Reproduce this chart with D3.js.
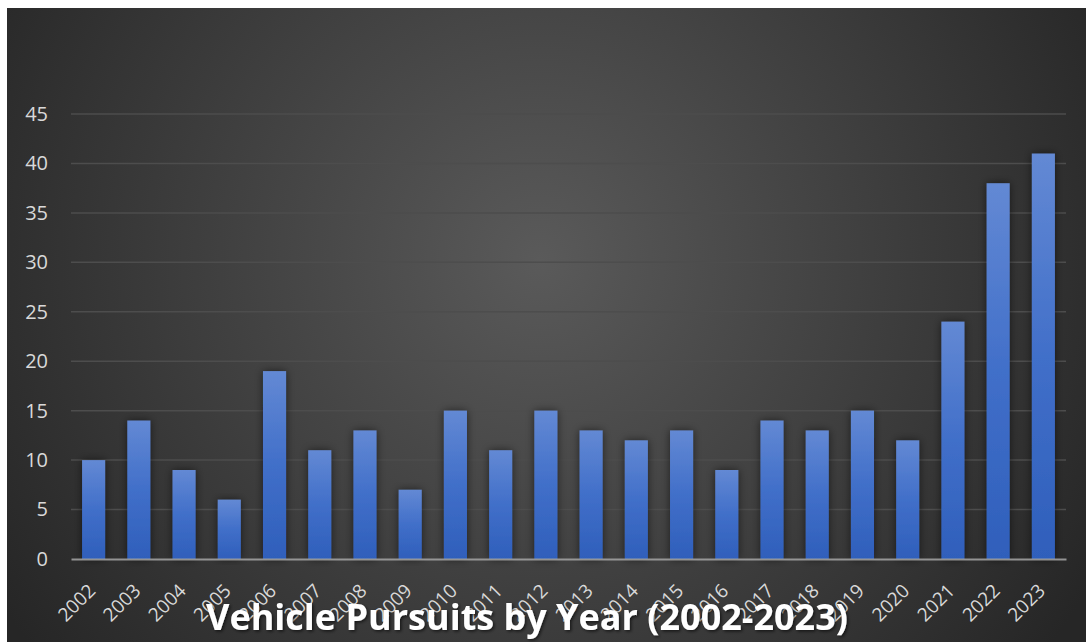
<!DOCTYPE html>
<html>
<head>
<meta charset="utf-8">
<script src="https://cdn.jsdelivr.net/npm/d3@7"></script>
<style>
  body { margin: 0; background: #fff; }
  svg { display: block; }
</style>
</head>
<body>
<div id="chart"></div>
<script>
let years = ["2002","2003","2004","2005","2006","2007","2008","2009","2010","2011","2012",
             "2013","2014","2015","2016","2017","2018","2019","2020","2021","2022","2023"];
let pursuits = [10, 14, 9, 6, 19, 11, 13, 7, 15, 11, 15, 13, 12, 13, 9, 14, 13, 15, 12, 24, 38, 41];
let yTicks = [0, 5, 10, 15, 20, 25, 30, 35, 40, 45];
let title = "Vehicle Pursuits by Year (2002-2023)";

let w = 1086, h = 642;
let plotLeft = 71, plotRight = 1066, plotTop = 114, plotBottom = 559;

let svg = d3.select("#chart").append("svg")
    .attr("width", w)
    .attr("height", h);

let defs = svg.append("defs");
let bg = defs.append("radialGradient")
    .attr("id", "bg")
    .attr("gradientUnits", "userSpaceOnUse")
    .attr("cx", 540).attr("cy", 260).attr("r", 640);
bg.append("stop").attr("offset", "0%").attr("stop-color", "#5a5a5a");
bg.append("stop").attr("offset", "100%").attr("stop-color", "#262626");

let barGrad = defs.append("linearGradient")
    .attr("id", "bar")
    .attr("x1", 0).attr("y1", 0).attr("x2", 0).attr("y2", 1);
barGrad.append("stop").attr("offset", "0%").attr("stop-color", "#6389d4");
barGrad.append("stop").attr("offset", "50%").attr("stop-color", "#416fc9");
barGrad.append("stop").attr("offset", "100%").attr("stop-color", "#2f5fbb");

let shadow = defs.append("filter").attr("id", "shadow")
    .attr("x", "-60%").attr("y", "-10%").attr("width", "220%").attr("height", "120%");
shadow.append("feDropShadow")
    .attr("dx", 0).attr("dy", 0).attr("stdDeviation", 4)
    .attr("flood-color", "#000").attr("flood-opacity", 0.55);

let tshadow = defs.append("filter").attr("id", "tshadow");
tshadow.append("feDropShadow")
    .attr("dx", 1.5).attr("dy", 1.5).attr("stdDeviation", 1.5)
    .attr("flood-color", "#000").attr("flood-opacity", 0.6);

svg.append("rect")
    .attr("x", 7).attr("y", 8)
    .attr("width", w - 7).attr("height", h - 8)
    .attr("fill", "url(#bg)");

let xScale = d3.scaleBand()
    .domain(years)
    .range([plotLeft, plotRight])
    .paddingInner(0.49)
    .paddingOuter(0.245);
let yScale = d3.scaleLinear()
    .domain([0, 45])
    .range([plotBottom, plotTop]);

// gridlines
svg.append("g")
    .selectAll("line")
    .data(yTicks.slice(1))
    .enter()
    .append("line")
    .attr("x1", plotLeft).attr("x2", plotRight)
    .attr("y1", (d) => yScale(d))
    .attr("y2", (d) => yScale(d))
    .attr("stroke", "#4d4d4d")
    .attr("stroke-width", 1.5);

// y axis labels
let yAxis = svg.append("g")
    .attr("transform", "translate(" + (plotLeft - 23) + ",0)")
    .call(d3.axisLeft(yScale).tickValues(yTicks).tickSize(0).tickPadding(0));
yAxis.select(".domain").remove();
yAxis.selectAll("text")
    .attr("fill", "#d9d9d9")
    .style("font-family", "'Open Sans', sans-serif")
    .style("font-size", "20px");

// bars
svg.append("g")
    .selectAll("rect")
    .data(pursuits)
    .enter()
    .append("rect")
    .attr("x", (d, i) => xScale(years[i]))
    .attr("y", (d) => yScale(d))
    .attr("width", xScale.bandwidth())
    .attr("height", (d) => plotBottom - yScale(d))
    .attr("fill", "url(#bar)")
    .attr("filter", "url(#shadow)");

// x axis
let xAxis = svg.append("g")
    .attr("transform", "translate(0," + plotBottom + ")")
    .call(d3.axisBottom(xScale).tickSize(0).tickPadding(0));
xAxis.select(".domain")
    .attr("stroke", "#a6a6a6")
    .attr("stroke-opacity", 0.85)
    .attr("stroke-width", 2);
xAxis.selectAll("text")
    .attr("fill", "#d9d9d9")
    .style("font-family", "'Open Sans', sans-serif")
    .style("font-size", "19px")
    .attr("text-anchor", "end")
    .attr("dy", null)
    .attr("transform", "translate(3,33) rotate(-45)");

// title
svg.append("text")
    .attr("x", 527)
    .attr("y", 630)
    .attr("text-anchor", "middle")
    .attr("fill", "#fff")
    .attr("filter", "url(#tshadow)")
    .style("font-family", "'Open Sans', sans-serif")
    .style("font-weight", "bold")
    .style("font-size", "36px")
    .text(title);
</script>
</body>
</html>
